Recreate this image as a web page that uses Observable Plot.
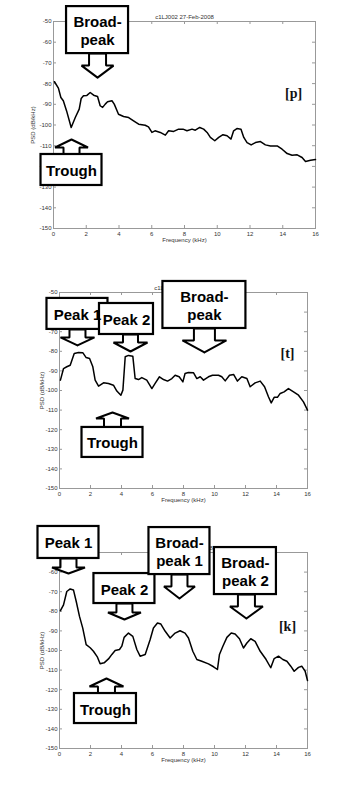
<!DOCTYPE html>
<html><head><meta charset="utf-8">
<script src="https://cdn.jsdelivr.net/npm/d3@7"></script>
<script src="https://cdn.jsdelivr.net/npm/@observablehq/plot@0.6"></script>
<style>body{margin:0;background:#fff} #c svg{display:block}</style>
</head><body><div id="c"></div>
<script>
const xTicks = [0, 2, 4, 6, 8, 10, 12, 14, 16];
const yTicks = [-150, -140, -130, -120, -110, -100, -90, -80, -70, -60, -50];
const titles = ["c1LJ002 27-Feb-2008", "c1LJ004 27-Feb-2008", "c1LJ005 27-Feb-2008"];
const tags = ["[p]", "[t]", "[k]"];
const tagFreq = [14.66, 14.71, 14.71];
const tagPsd = [-84.8, -81.1, -87.8];

// panel [p]
const pFreq = [0.06,0.3,0.45,0.6,0.8,1.08,1.33,1.57,1.69,1.83,2.04,2.24,2.45,2.69,2.85,3.0,3.16,3.3,3.57,3.71,3.97,4.28,4.59,4.89,5.2,5.6,5.8,6.01,6.2,6.52,6.83,7.03,7.34,7.64,7.91,8.15,8.46,8.66,8.93,9.17,9.38,9.58,9.85,10.09,10.35,10.6,10.84,11.0,11.2,11.45,11.62,11.82,12.07,12.33,12.64,12.94,13.25,13.66,13.96,14.27,14.57,14.88,15.18,15.39,15.7,16];
const pPsd = [-79.1,-82.2,-86.7,-88.3,-93.2,-101.2,-96.4,-92.3,-87.2,-85.9,-85.7,-84.3,-85.6,-86.2,-90.7,-91.5,-89.9,-88.8,-88.3,-89.9,-94.8,-95.9,-96.4,-98,-99.6,-100.1,-100.9,-103.6,-102.8,-103.6,-104.9,-102.8,-103.1,-102,-102,-102.8,-102,-102.5,-101.2,-102,-103.6,-106,-107.6,-106,-104.7,-105.2,-106.8,-102.8,-101.7,-102,-106,-108.5,-109.6,-108.5,-108,-109.6,-110.1,-110.1,-111.7,-113.8,-114.6,-114.4,-115.7,-117.6,-117,-116.7];
const pLabels = ["Broad-\npeak", "Trough"];
const pTipFreq = [2.69, 1.10];
const pTipPsd = [-77.1, -107.0];
const pDir = ["down", "up"];

// panel [t]
const tFreq = [0.06,0.26,0.47,0.69,0.95,1.23,1.5,1.72,1.94,2.15,2.3,2.52,2.84,3.16,3.48,3.7,3.96,4.09,4.24,4.45,4.73,4.88,5.1,5.31,5.63,5.96,6.17,6.45,6.71,6.97,7.25,7.46,7.72,7.96,8.1,8.32,8.65,8.86,9.08,9.29,9.61,9.87,10.26,10.47,10.69,10.97,11.23,11.48,11.76,12.09,12.3,12.62,12.95,13.23,13.48,13.66,13.85,14.06,14.24,14.49,14.77,15.1,15.42,15.74,16];
const tPsd = [-94.7,-88.8,-87.9,-87.1,-81.1,-80.6,-80.7,-83.2,-83.7,-87.9,-94.7,-97.8,-96.1,-96.4,-97.3,-100.3,-102.4,-99.8,-82.8,-82.1,-82.5,-93.9,-94.4,-93.4,-94.7,-99,-96.4,-93,-94.4,-95.2,-93.9,-92.2,-93,-95.6,-91.3,-90.8,-91,-93.9,-93,-94.7,-93,-92.2,-92.2,-93,-95.1,-92.2,-91.8,-95.2,-93,-93.9,-98.1,-96.1,-95.2,-98.1,-103.2,-106.3,-103.5,-103.5,-101.5,-100.7,-99,-100.7,-102.4,-105.8,-110];
const tLabels = ["Peak 1", "Peak 2", "Broad-\npeak", "Trough"];
const tTipFreq = [1.16, 4.58, 9.35, 3.42];
const tTipPsd = [-77.0, -80.1, -80.6, -111.2];
const tDir = ["down", "down", "down", "up"];

// panel [k]
const kFreq = [0.06,0.26,0.47,0.69,0.9,1.08,1.29,1.5,1.72,1.98,2.19,2.45,2.62,2.88,3.16,3.38,3.59,3.87,4.02,4.17,4.45,4.73,4.99,5.2,5.53,5.85,6.06,6.32,6.54,6.82,7.14,7.46,7.78,8.1,8.32,8.6,8.86,9.18,9.61,9.94,10.19,10.32,10.54,10.8,11.08,11.33,11.61,11.87,12.09,12.34,12.62,12.95,13.33,13.63,13.85,14.13,14.41,14.67,14.92,15.14,15.42,15.63,15.85,16];
const kPsd = [-79.7,-76.7,-69.9,-68.6,-69.1,-75,-82.6,-88.6,-97,-98.6,-100.4,-103.4,-106.8,-106.3,-104.3,-102,-100,-99.5,-97.8,-93.3,-91.1,-92.8,-99.5,-102.9,-102,-94.4,-88.5,-86,-86.5,-90.2,-93.6,-91.1,-89.9,-91.1,-93.6,-100.4,-104.6,-105.5,-106.8,-108.3,-109.7,-102,-97.8,-93.3,-91.1,-91.6,-94,-98.7,-96.2,-94,-95.3,-100.4,-104.6,-108.8,-104.1,-102.9,-104.6,-105.5,-108,-110.6,-108.6,-108,-110.6,-115.3];
const kLabels = ["Peak 1", "Peak 2", "Broad-\npeak 1", "Broad-\npeak 2", "Trough"];
const kTipFreq = [0.58, 4.19, 7.74, 12.06, 3.03];
const kTipPsd = [-60.7, -84.2, -73.5, -83.7, -114.3];
const kDir = ["down", "down", "down", "down", "up"];

// callout shapes (pixels): box w/h, stem & head length, head/stem width, box x shift
const pShapes = [[62,47,12,12,32,17,0],[61,31,7,8,33,16,0]];
const tShapes = [[61,31,8,8,34,16,0],[54,31,8,9,34,15,-4],[83,47,12,12,44,21,0],[61,30,9,6,33,17,0]];
const kShapes = [[61,32,9,6,33,16,0],[61,30,9,7,33,16,0],[61,47,12,12,31,16,0],[62,47,12,12,33,17,-1],[62,30,7,8,34,17,-1]];

const W = 337;
const SANS = "Liberation Sans, Arial, Helvetica, sans-serif";

function panel(o) {
  const iw = W - o.ml - o.mr, ih = o.height - o.mt - o.mb;
  const kx = 16 / iw, ky = 100 / ih;
  const rows = o.freq.map((f, i) => ({f, p: o.psd[i]}));
  const polys = [], boxes = [], texts = [];
  o.labels.forEach((lab, i) => {
    const [w, h, stem, head, hwp, swp, dx] = o.shapes[i];
    const tx = o.tipF[i], ty = o.tipP[i];
    const sg = o.dir[i] === "down" ? 1 : -1;
    const base = ty + sg * head * ky;
    const edge = ty + sg * (head + stem) * ky;
    const far = edge + sg * h * ky;
    const hw = hwp / 2 * kx, sw = swp / 2 * kx;
    [[tx, ty], [tx + hw, base], [tx + sw, base], [tx + sw, edge], [tx - sw, edge], [tx - sw, base], [tx - hw, base], [tx, ty]]
      .forEach(([x, y]) => polys.push({id: i, x, y}));
    const cx = tx + dx * kx;
    boxes.push({x1: cx - w / 2 * kx, x2: cx + w / 2 * kx, y1: Math.min(edge, far), y2: Math.max(edge, far)});
    texts.push({x: cx, y: (edge + far) / 2, label: lab});
  });
  return Plot.plot({
    width: W, height: o.height,
    marginLeft: o.ml, marginRight: o.mr, marginTop: o.mt, marginBottom: o.mb,
    style: {fontFamily: SANS, fontSize: "6px", color: "#333", background: "white"},
    x: {domain: [0, 16], ticks: xTicks, tickSize: 0, tickPadding: 3, tickFormat: d => String(d),
        label: "Frequency (kHz)", labelAnchor: "center", labelOffset: o.xlo, labelArrow: false},
    y: {domain: [-150, -50], ticks: yTicks, tickSize: 0, tickPadding: 2, tickFormat: d => String(d),
        label: "PSD (dB/kHz)", labelAnchor: "center", labelOffset: o.ylo, labelArrow: false},
    marks: [
      Plot.frame({stroke: "#999", strokeWidth: 1}),
      Plot.ruleY(yTicks, {y: d => d, x1: 0, x2: 3 * kx, stroke: "#999"}),
      Plot.ruleY(yTicks, {y: d => d, x1: 16 - 3 * kx, x2: 16, stroke: "#999"}),
      Plot.ruleX(xTicks, {x: d => d, y1: -150, y2: -150 + 3 * ky, stroke: "#999"}),
      Plot.ruleX(xTicks, {x: d => d, y1: -50, y2: -50 - 3 * ky, stroke: "#999"}),
      Plot.line(rows, {x: "f", y: "p", stroke: "black", strokeWidth: 1.5}),
      Plot.text([o.title], {frameAnchor: "top", dy: -7, fontSize: 6, fill: "#333"}),
      Plot.text([o.tag], {x: () => o.tagF, y: () => o.tagP, fontFamily: "Liberation Serif, Times New Roman, serif",
        fontWeight: "bold", fontSize: 14, fill: "#111"}),
      Plot.line(polys, {x: "x", y: "y", z: "id", fill: "white", stroke: "black", strokeWidth: 2, strokeLinejoin: "miter"}),
      Plot.rect(boxes, {x1: "x1", x2: "x2", y1: "y1", y2: "y2", fill: "white", stroke: "black", strokeWidth: 2.2}),
      Plot.text(texts, {x: "x", y: "y", text: "label", fontFamily: SANS, fontWeight: "bold", fontSize: 15,
        lineHeight: 1.25, textAnchor: "middle", fill: "black"})
    ]
  });
}

const c = document.getElementById("c");
c.append(panel({freq: pFreq, psd: pPsd, labels: pLabels, tipF: pTipFreq, tipP: pTipPsd, dir: pDir, shapes: pShapes,
  title: titles[0], tag: tags[0], tagF: tagFreq[0], tagP: tagPsd[0],
  height: 260, ml: 53, mr: 22, mt: 21, mb: 32, xlo: 13, ylo: 23}));
c.append(panel({freq: tFreq, psd: tPsd, labels: tLabels, tipF: tTipFreq, tipP: tTipPsd, dir: tDir, shapes: tShapes,
  title: titles[1], tag: tags[1], tagF: tagFreq[1], tagP: tagPsd[1],
  height: 260, ml: 59, mr: 30, mt: 32, mb: 32, xlo: 13, ylo: 20}));
c.append(panel({freq: kFreq, psd: kPsd, labels: kLabels, tipF: kTipFreq, tipP: kTipPsd, dir: kDir, shapes: kShapes,
  title: titles[2], tag: tags[2], tagF: tagFreq[2], tagP: tagPsd[2],
  height: 268, ml: 59, mr: 30, mt: 32, mb: 40, xlo: 13, ylo: 20}));
</script></body></html>
